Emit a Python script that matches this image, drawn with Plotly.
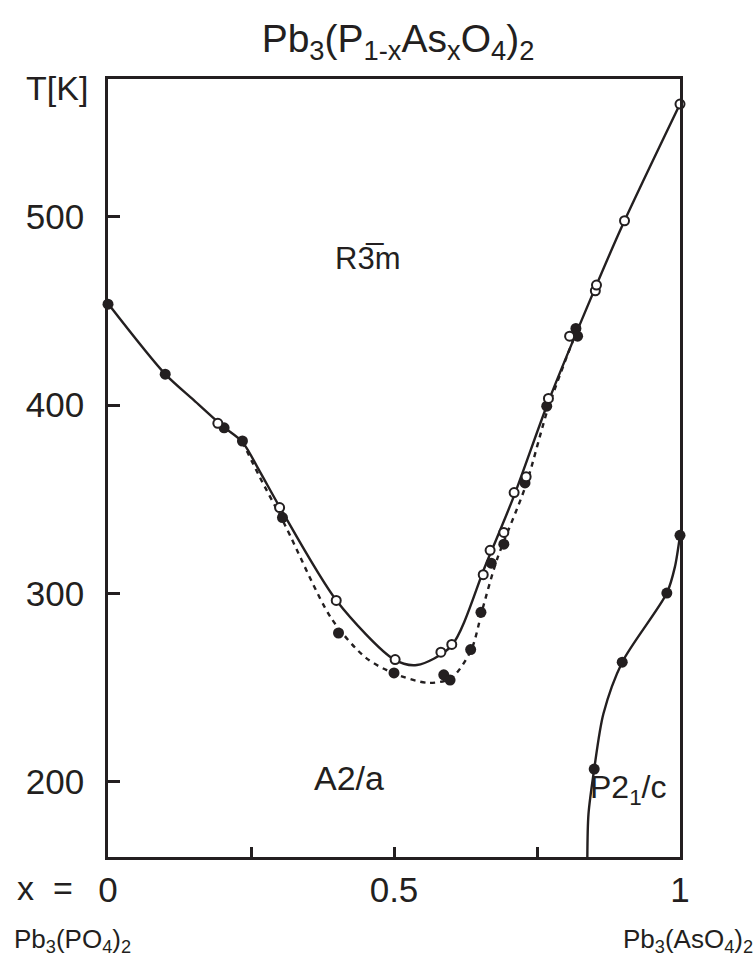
import plotly.graph_objects as go

INK = "#231f20"
FONT = "Liberation Sans, Arial, sans-serif"

# measured points: open circles
open_x = [0.192, 0.300, 0.399, 0.502, 0.582, 0.601, 0.656, 0.668, 0.692, 0.710, 0.731,
          0.770, 0.807, 0.852, 0.854, 0.903, 1.000]
open_T = [390.4, 345.6, 296.3, 264.9, 268.8, 272.9, 310.0, 322.9, 332.4, 353.6, 362.0,
          403.6, 436.7, 460.8, 463.8, 498.0, 560.0]

# measured points: filled circles (upper transition)
fill_x = [0.000, 0.100, 0.203, 0.235, 0.305, 0.403, 0.500, 0.587, 0.598, 0.634, 0.652,
          0.670, 0.692, 0.729, 0.767, 0.818, 0.821]
fill_T = [453.7, 416.5, 388.0, 381.0, 340.3, 279.0, 257.8, 256.8, 254.0, 270.2, 290.0,
          316.1, 326.2, 358.7, 399.5, 440.8, 436.7]

# filled circles, monoclinic transition
mono_x = [0.850, 0.899, 0.977, 1.000]
mono_T = [206.7, 263.5, 300.2, 330.9]

# curve nodes
solid_x = [0.0, 0.1, 0.15, 0.2, 0.235, 0.265, 0.3, 0.4, 0.5, 0.54, 0.6, 0.66, 0.71, 0.77, 0.85, 0.9, 1.0]
solid_T = [454, 416.5, 402.7, 389, 380.5, 365, 346, 296, 265, 262, 272, 315, 352, 402, 461, 496, 560]

dash_x = [0.235, 0.265, 0.31, 0.39, 0.45, 0.5, 0.56, 0.6, 0.635, 0.655, 0.68, 0.73, 0.77, 0.82]
dash_T = [380.5, 362, 336, 287, 266, 257.5, 252.5, 255, 270, 292, 318, 357, 399, 440]

mcurve_x = [0.838, 0.840, 0.850, 0.866, 0.899, 0.977, 0.991, 1.0]
mcurve_T = [160, 182.8, 206.7, 236, 263.5, 300.2, 314, 330.9]

y_ticks = [200, 300, 400, 500]
x_ticks = [0, 0.25, 0.5, 0.75, 1]
x_ticktext = ["0", "", "0.5", "", "1"]

fig = go.Figure()
fig.add_trace(go.Scatter(x=solid_x, y=solid_T, mode="lines",
                         line=dict(color=INK, width=2.4, shape="spline", smoothing=0.8)))
fig.add_trace(go.Scatter(x=dash_x, y=dash_T, mode="lines",
                         line=dict(color=INK, width=2.4, dash="5px,5px", shape="spline", smoothing=0.8)))
fig.add_trace(go.Scatter(x=mcurve_x, y=mcurve_T, mode="lines",
                         line=dict(color=INK, width=2.4, shape="spline", smoothing=0.8)))
fig.add_trace(go.Scatter(x=fill_x, y=fill_T, mode="markers", cliponaxis=False,
                         marker=dict(size=11, color=INK, line=dict(width=0))))
fig.add_trace(go.Scatter(x=mono_x, y=mono_T, mode="markers", cliponaxis=False,
                         marker=dict(size=11, color=INK, line=dict(width=0))))
fig.add_trace(go.Scatter(x=open_x, y=open_T, mode="markers", cliponaxis=False,
                         marker=dict(size=9, color="white", line=dict(width=2, color=INK))))

ann = []
def text(s, x, y, size, xanchor="center", xref="x", yref="y"):
    ann.append(dict(text=s, x=x, y=y, xref=xref, yref=yref, showarrow=False,
                    xanchor=xanchor, yanchor="middle", font=dict(family=FONT, size=size, color=INK)))

text("R3\u0305m", 0.453, 478, 31)
text("A2/a", 0.421, 202, 34)
text("P2<sub>1</sub>/c", 0.909, 195.6, 32)
text("T[K]", -0.089, 0.988, 34, yref="paper", xref="paper")
text("x  =", -0.058, -0.040, 34, xanchor="right", xref="paper", yref="paper")
text("Pb<sub>3</sub>(PO<sub>4</sub>)<sub>2</sub>", -0.168, -0.107, 26, xanchor="left", xref="paper", yref="paper")
text("Pb<sub>3</sub>(AsO<sub>4</sub>)<sub>2</sub>", 1.131, -0.107, 26, xanchor="right", xref="paper", yref="paper")

fig.update_layout(
    width=755, height=974,
    margin=dict(l=108, r=75, t=79, b=117),
    paper_bgcolor="white", plot_bgcolor="white",
    showlegend=False,
    title=dict(text="Pb<sub>3</sub>(P<sub>1-x</sub>As<sub>x</sub>O<sub>4</sub>)<sub>2</sub>",
               x=0.507 * 572 / 755 + 108 / 755, xanchor="center", y=1 - 38 / 974, yanchor="middle",
               font=dict(family=FONT, size=39, color=INK)),
    annotations=ann,
    xaxis=dict(range=[0, 1], showgrid=False, zeroline=False, showline=True, mirror=True,
               linecolor=INK, linewidth=2.5, ticks="inside", ticklen=10, tickwidth=2.5, tickcolor=INK,
               tickvals=x_ticks, ticktext=x_ticktext, ticklabelstandoff=0,
               tickfont=dict(family=FONT, size=35, color=INK)),
    yaxis=dict(range=[160, 573.3], showgrid=False, zeroline=False, showline=True, mirror=True,
               linecolor=INK, linewidth=2.5, ticks="inside", ticklen=12, tickwidth=2.5, tickcolor=INK,
               tickvals=y_ticks, ticklabelstandoff=14,
               tickfont=dict(family=FONT, size=35, color=INK)),
)

fig.write_html("out.html")
